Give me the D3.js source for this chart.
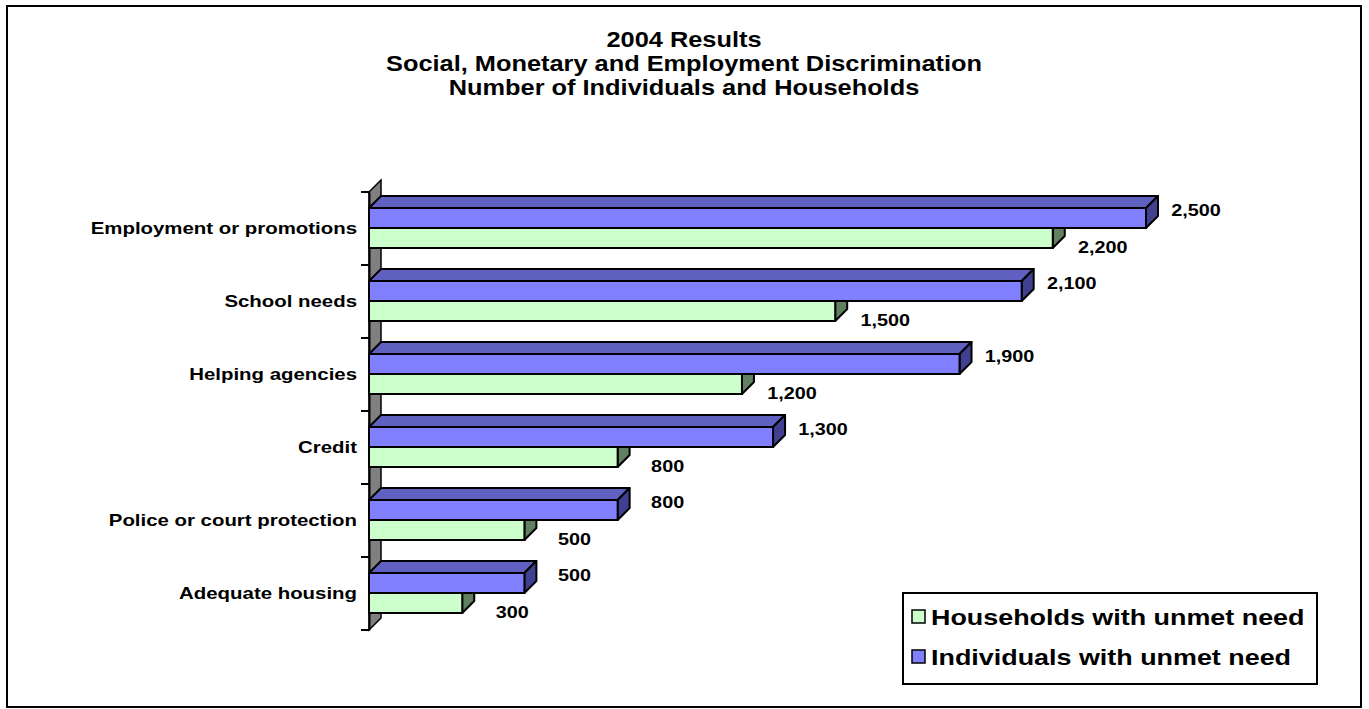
<!DOCTYPE html>
<html>
<head>
<meta charset="utf-8">
<script src="https://cdn.jsdelivr.net/npm/d3@7"></script>
<style>
  html, body { margin: 0; padding: 0; background: #fff; }
  svg { display: block; font-family: "Liberation Sans", Arial, sans-serif; }
</style>
</head>
<body>
<svg id="chart" width="1369" height="709"></svg>
<script>
// Chart data
const categories = ["Employment or promotions", "School needs", "Helping agencies", "Credit", "Police or court protection", "Adequate housing"];
const individuals = [2500, 2100, 1900, 1300, 800, 500];
const households = [2200, 1500, 1200, 800, 500, 300];
const seriesNames = ["Households with unmet need", "Individuals with unmet need"];
const titleLines = ["2004 Results", "Social, Monetary and Employment Discrimination", "Number of Individuals and Households"];

const svg = d3.select("#chart");
const W = 1369, H = 709;
const stretch = 1.18;   // wide text face

// text helper: bold, horizontally widened
function label(g, x, y, str, size, anchor) {
  return g.append("text")
    .attr("transform", `translate(${x},${y}) scale(${stretch},1)`)
    .attr("text-anchor", anchor || "start")
    .attr("font-size", size).attr("font-weight", "bold").attr("fill", "#000")
    .text(str);
}

// outer frame
svg.append("rect").attr("x", 7).attr("y", 6).attr("width", W - 15).attr("height", H - 8)
  .attr("fill", "#fff").attr("stroke", "#000").attr("stroke-width", 2);

// title
const gTitle = svg.append("g");
titleLines.forEach((t, i) => label(gTitle, 684, 47 + i * 24, t, 21.5, "middle"));

const x = d3.scaleLinear().domain([0, 2500]).range([369, 1146]);
const y = d3.scaleBand().domain(categories).range([192, 630]).paddingInner(0).paddingOuter(0);
const dx = 12, dy = 12;     // 3-D depth offset
const barH = 20;

const colors = {
  ind: { front: "#8080ff", top: "#6060c0", side: "#404090" },
  hh:  { front: "#ccffcc", top: "#99bf99", side: "#608060" }
};

// left wall
const x0 = x(0), yTop = y.range()[0], yBot = y.range()[1];
svg.append("path")
  .attr("d", `M${x0},${yTop} L${x0 + dx},${yTop - dy} L${x0 + dx},${yBot - dy} L${x0},${yBot} Z`)
  .attr("fill", "#808080").attr("stroke", "#000").attr("stroke-width", 1.5);

// category axis
const axis = d3.axisLeft(y).tickSize(0).tickPadding(12);
const gAxis = svg.append("g").attr("transform", `translate(${x0},0)`).call(axis);
gAxis.select(".domain").attr("stroke", "#000").attr("stroke-width", 2);
gAxis.selectAll(".tick text")
  .attr("font-size", 17.3).attr("font-weight", "bold").attr("fill", "#000")
  .attr("font-family", "'Liberation Sans', Arial, sans-serif")
  .attr("transform", `translate(-12,0) scale(${stretch},1)`).attr("x", 0);
// tick marks at band boundaries
const bounds = categories.map(c => y(c)).concat([yBot]);
svg.append("g").selectAll("line").data(bounds).join("line")
  .attr("x1", x0 - 8).attr("x2", x0).attr("y1", d => d).attr("y2", d => d)
  .attr("stroke", "#000").attr("stroke-width", 2);

function drawBar(g, v, top, c) {
  const xl = x(0), xr = x(v);
  // top face
  g.append("path")
    .attr("d", `M${xl},${top} L${xl + dx},${top - dy} L${xr + dx},${top - dy} L${xr},${top} Z`)
    .attr("fill", c.top).attr("stroke", "#000").attr("stroke-width", 2).attr("stroke-linejoin", "round");
  // side face
  g.append("path")
    .attr("d", `M${xr},${top} L${xr + dx},${top - dy} L${xr + dx},${top - dy + barH} L${xr},${top + barH} Z`)
    .attr("fill", c.side).attr("stroke", "#000").attr("stroke-width", 2).attr("stroke-linejoin", "round");
  // front face
  g.append("rect").attr("x", xl).attr("y", top).attr("width", xr - xl).attr("height", barH)
    .attr("fill", c.front).attr("stroke", "#000").attr("stroke-width", 2);
}

const fmt = d3.format(",");
const gBars = svg.append("g");
categories.forEach((cat, i) => {
  const b = y(cat);
  const g = gBars.append("g");
  drawBar(g, households[i], b + 36, colors.hh);
  drawBar(g, individuals[i], b + 16, colors.ind);
  label(g, x(individuals[i]) + 50, b + 24, fmt(individuals[i]), 16.8, "middle");
  label(g, x(households[i]) + 50, b + 61, fmt(households[i]), 16.8, "middle");
});

// legend
const lg = svg.append("g");
lg.append("rect").attr("x", 903).attr("y", 593).attr("width", 414).attr("height", 91)
  .attr("fill", "#fff").attr("stroke", "#000").attr("stroke-width", 2);
const legendColors = [colors.hh.front, colors.ind.front];
seriesNames.forEach((name, i) => {
  const cy = 617 + i * 40;
  lg.append("rect").attr("x", 912).attr("y", cy - 7).attr("width", 13).attr("height", 13)
    .attr("fill", legendColors[i]).attr("stroke", "#000").attr("stroke-width", 1.5);
  label(lg, 931, cy + 8, name, 22.8, "start");
});
</script>
</body>
</html>
